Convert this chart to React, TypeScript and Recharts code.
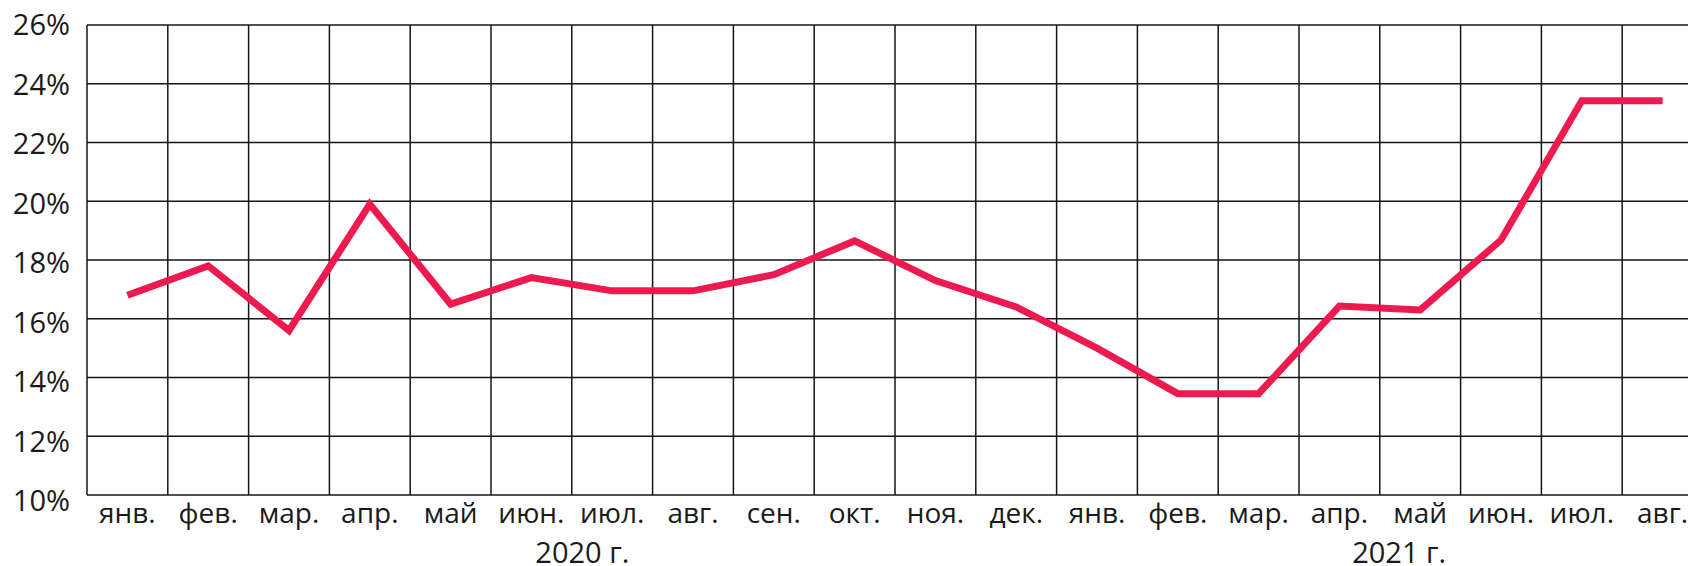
import React from 'react';
import { LineChart, Line, XAxis, YAxis, CartesianGrid } from 'recharts';

const months = ['янв.', 'фев.', 'мар.', 'апр.', 'май', 'июн.', 'июл.', 'авг.', 'сен.', 'окт.', 'ноя.', 'дек.', 'янв.', 'фев.', 'мар.', 'апр.', 'май', 'июн.', 'июл.', 'авг.'];
const values = [16.8, 17.8, 15.6, 19.9, 16.5, 17.4, 16.95, 16.95, 17.5, 18.65, 17.3, 16.4, 15.0, 13.45, 13.45, 16.43, 16.3, 18.68, 23.42, 23.42];
const yTicks = [10, 12, 14, 16, 18, 20, 22, 24, 26];
const yearLabels = ['2020 г.', '2021 г.'];
// year label centres, in month-column units from the left edge of the plot
const yearPositions = [6.13, 16.24];
const yearTickIndex = [6, 16];

const data = months.map((m, i) => ({ id: i, month: m, value: values[i] }));

const FONT = '"Open Sans", sans-serif';
const TEXT = '#1a1a1a';
const CHART_W = 1720;
const CHART_H = 558;
const MARGIN = { top: 17, right: 25, bottom: 0, left: 0 };
const Y_AXIS_W = 79;
const PLOT_W = CHART_W - MARGIN.left - MARGIN.right - Y_AXIS_W;
const BAND = PLOT_W / months.length;

const MonthTick = (props: any) => {
  const { x, y, payload, index } = props;
  const i = typeof payload.value === 'number' ? payload.value : index;
  const yi = yearTickIndex.indexOf(i);
  return (
    <g>
      <text x={x} y={y + 27.7} textAnchor="middle" fontFamily={FONT} fontSize={28} fill={TEXT}>
        {months[i]}
      </text>
      {yi >= 0 && (
        <text
          x={x + (yearPositions[yi] - (i + 0.5)) * BAND}
          y={y + 68}
          textAnchor="middle"
          fontFamily={FONT}
          fontSize={29}
          fill={TEXT}
        >
          {yearLabels[yi]}
        </text>
      )}
    </g>
  );
};

const PctTick = (props: any) => {
  const { x, y, payload } = props;
  const shift = ((26 - payload.value) / 16) * 6;
  return (
    <text x={x} y={y + 10.4 + shift} textAnchor="end" fontFamily={FONT} fontSize={29} fill={TEXT}>
      {`${payload.value}%`}
    </text>
  );
};

const verticalLines = ({ offset }: any) =>
  Array.from({ length: months.length + 1 }, (_, k) => offset.left + (k * offset.width) / months.length);

export default function App() {
  return (
    <div style={{ width: 1688, height: CHART_H, overflow: 'hidden' }}>
      <LineChart width={CHART_W} height={CHART_H} data={data} margin={MARGIN}>
        <CartesianGrid
          stroke="#161616"
          strokeWidth={1.5}
          horizontal
          vertical
          verticalCoordinatesGenerator={verticalLines}
        />
        <XAxis
          dataKey="id"
          type="category"
          scale="band"
          height={71}
          axisLine={false}
          tickLine={false}
          tickSize={0}
          tickMargin={0}
          interval={0}
          tick={<MonthTick />}
        />
        <YAxis
          type="number"
          domain={[10, 26]}
          ticks={yTicks}
          width={Y_AXIS_W}
          axisLine={false}
          tickLine={false}
          tickSize={0}
          tickMargin={17}
          interval={0}
          tick={<PctTick />}
        />
        <Line
          dataKey="value"
          type="linear"
          stroke="#ED1A4F"
          strokeWidth={7}
          dot={false}
          activeDot={false}
          isAnimationActive={false}
          strokeLinejoin="miter"
          strokeLinecap="butt"
        />
      </LineChart>
    </div>
  );
}
